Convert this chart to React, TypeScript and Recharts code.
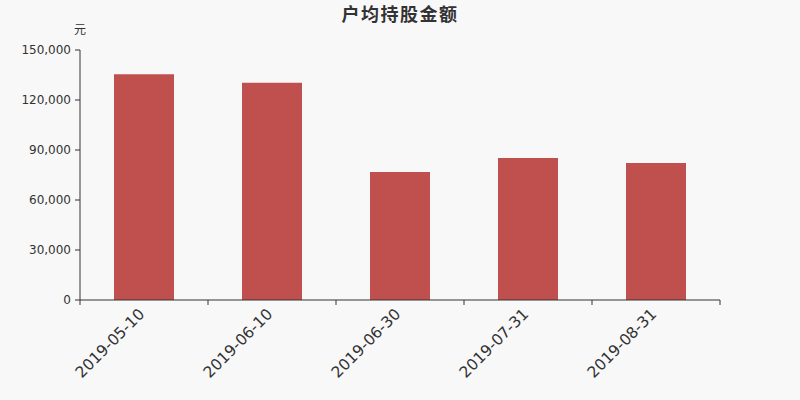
import React from 'react';
import { BarChart, Bar, XAxis, YAxis } from 'recharts';

const categories = ['2019-05-10', '2019-06-10', '2019-06-30', '2019-07-31', '2019-08-31'];
const values = [135400, 130400, 76800, 85200, 82200];
const yTicks = [0, 30000, 60000, 90000, 120000, 150000];
const title = '户均持股金额';
const unit = '元';

const data = categories.map((c, i) => ({ date: c, value: values[i] }));

const AXIS = '#333';
const TICK_SIZE = 5;
const TICK_MARGIN = 3;

const XTick = (props: any) => {
  const { x, y, payload, index } = props;
  const half = payload && typeof payload.offset === 'number' ? payload.offset : 0;
  const axisY = y - TICK_SIZE - TICK_MARGIN;
  const tx = x + 1.5;
  const ty = axisY + 15;
  return (
    <g>
      <line x1={x - half} y1={axisY} x2={x - half} y2={axisY + TICK_SIZE} stroke={AXIS} />
      {index === categories.length - 1 && (
        <line x1={x + half} y1={axisY} x2={x + half} y2={axisY + TICK_SIZE} stroke={AXIS} />
      )}
      <text
        x={tx}
        y={ty}
        textAnchor="end"
        fill={AXIS}
        fontSize={15.5}
        fontFamily="DejaVu Sans"
        transform={`rotate(-45, ${tx}, ${ty})`}
      >
        {payload.value}
      </text>
    </g>
  );
};

export default function App() {
  return (
    <div
      style={{
        position: 'absolute',
        left: 0,
        top: 0,
        width: 800,
        height: 400,
        background: '#f8f8f8',
        fontFamily: 'DejaVu Sans',
      }}
    >
      <div
        style={{
          position: 'absolute',
          left: 0,
          top: 0,
          width: 800,
          height: 26,
          lineHeight: '26px',
          textAlign: 'center',
          fontSize: 18,
          fontWeight: 'bold',
          letterSpacing: 1.5,
          color: '#333',
          fontFamily: '"Noto Sans CJK SC", sans-serif',
        }}
      >
        {title}
      </div>
      <div
        style={{
          position: 'absolute',
          left: 73,
          top: 21,
          width: 14,
          height: 16,
          lineHeight: '16px',
          textAlign: 'center',
          fontSize: 12,
          color: '#333',
          fontFamily: '"Noto Sans CJK SC", sans-serif',
        }}
      >
        {unit}
      </div>
      <div style={{ position: 'absolute', left: 0, top: 0 }}>
        <BarChart width={800} height={400} data={data} margin={{ top: 50, right: 80, left: 0, bottom: 0 }}>
          <XAxis
            dataKey="date"
            height={100}
            interval={0}
            tickLine={false}
            tickSize={TICK_SIZE}
            tickMargin={TICK_MARGIN}
            axisLine={{ stroke: AXIS }}
            tick={<XTick />}
          />
          <YAxis
            width={80}
            domain={[0, 150000]}
            ticks={yTicks}
            interval={0}
            tickSize={TICK_SIZE}
            tickMargin={4}
            axisLine={{ stroke: AXIS }}
            tickLine={{ stroke: AXIS }}
            tick={{ fill: AXIS, fontSize: 12, fontFamily: 'DejaVu Sans' }}
            tickFormatter={(v: number) => v.toLocaleString('en-US')}
          />
          <Bar dataKey="value" fill="#c0504d" barSize={60} isAnimationActive={false} />
        </BarChart>
      </div>
    </div>
  );
}
